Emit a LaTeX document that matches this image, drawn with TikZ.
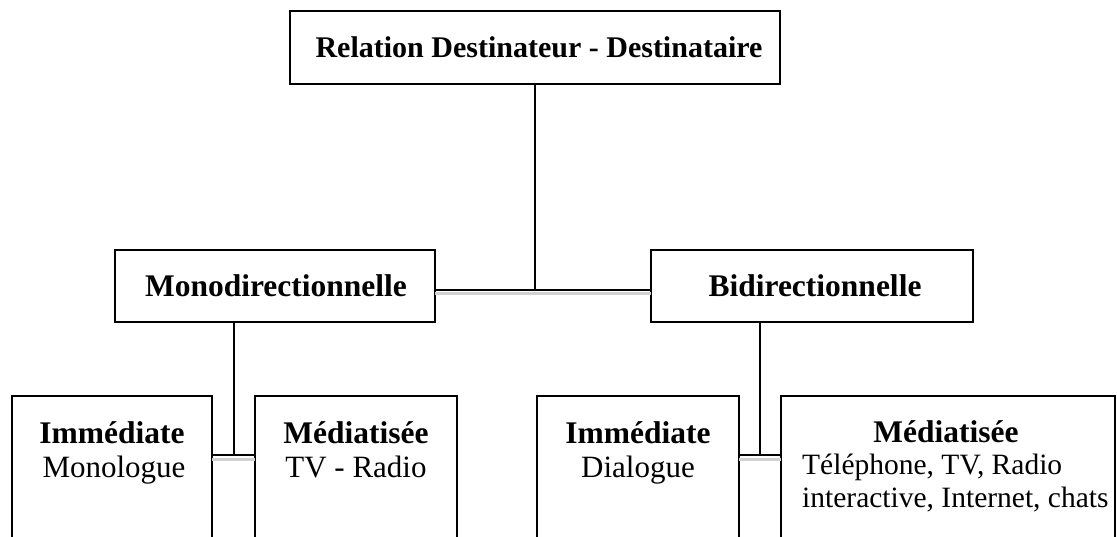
\documentclass[tikz,border=0pt]{standalone}
\usepackage{fontspec}
\setmainfont{Liberation Serif}
\begin{document}
\begin{tikzpicture}[x=1pt,y=-1pt,
  box/.style={draw, line width=1.3pt, inner sep=0pt, outer sep=0pt},
  ttl/.style={font=\fontsize{30}{34}\selectfont\bfseries, inner sep=0pt},
  lbl/.style={font=\fontsize{31.5}{34}\selectfont\bfseries, inner sep=0pt},
  txt/.style={font=\fontsize{31}{33}\selectfont, inner sep=0pt},
  txts/.style={font=\fontsize{29.5}{33}\selectfont, inner sep=0pt},
  conn/.style={line width=2pt, black},
  shade/.style={line width=3pt, black!18}]
\useasboundingbox (0,0) rectangle (1117,537);
\clip (0,0) rectangle (1117,537);
% boxes
\node[box, minimum width=490pt, minimum height=73pt] (top) at (535,47.5) {};
\node[ttl] (toptxt) at (539,47) {Relation Destinateur - Destinataire};
\node[box, minimum width=320pt, minimum height=72pt] (mono) at (275,286) {};
\node[lbl] (monotxt) at (276,286) {Monodirectionnelle};
\node[box, minimum width=322pt, minimum height=72pt] (bidi) at (812,286) {};
\node[lbl] (biditxt) at (815,286) {Bidirectionnelle};
\node[box, minimum width=200pt, minimum height=184pt] (imm1) at (112,488) {};
\node[box, minimum width=202pt, minimum height=184pt] (med1) at (356,488) {};
\node[box, minimum width=202pt, minimum height=184pt] (imm2) at (638,488) {};
\node[box, minimum width=334pt, minimum height=184pt] (med2) at (948,488) {};
% texts in bottom boxes
\node[lbl, anchor=base] (t1a) at (112,443) {Immédiate};
\node[txt, anchor=base] (t1b) at (114,477) {Monologue};
\node[lbl, anchor=base] (t2a) at (356,443) {Médiatisée};
\node[txt, anchor=base] (t2b) at (356,477) {TV - Radio};
\node[lbl, anchor=base] (t3a) at (638,443) {Immédiate};
\node[txt, anchor=base] (t3b) at (638,477) {Dialogue};
\node[lbl, anchor=base] (t4a) at (946,442) {Médiatisée};
\node[txts, anchor=base west] (t4b) at (802,474) {Téléphone, TV, Radio};
\node[txts, anchor=base west] (t4c) at (802,507) {interactive, Internet, chats};
% junctions
\coordinate (j0) at (535,290);
\coordinate (j1) at (233.5,455);
\coordinate (j2) at (760,455);
% connectors: grey shadow first
\draw[shade] ([yshift=-4pt]mono.east |- j0) -- ([yshift=-4pt]bidi.west |- j0);
\draw[shade] ([yshift=-4pt]imm1.east |- j1) -- ([yshift=-4pt]med1.west |- j1);
\draw[shade] ([yshift=-4pt]imm2.east |- j2) -- ([yshift=-4pt]med2.west |- j2);
\draw[conn] (top.south) -- (j0);
\draw[conn] (mono.east |- j0) -- (bidi.west |- j0);
\draw[conn] (j1 |- mono.south) -- (j1);
\draw[conn] (imm1.east |- j1) -- (med1.west |- j1);
\draw[conn] (j2 |- bidi.south) -- (j2);
\draw[conn] (imm2.east |- j2) -- (med2.west |- j2);
\end{tikzpicture}
\end{document}
